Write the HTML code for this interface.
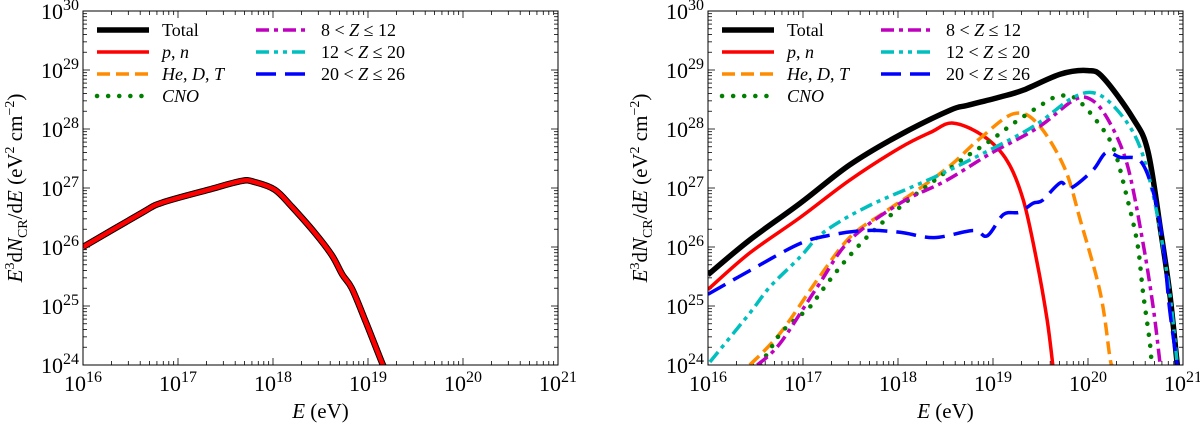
<!DOCTYPE html>
<html><head><meta charset="utf-8">
<style>
html,body{margin:0;padding:0;background:#fff;}
svg{display:block;font-family:"Liberation Serif",serif;}
</style></head>
<body>
<svg id="fig" width="1200" height="424" viewBox="0 0 1200 424" xmlns="http://www.w3.org/2000/svg"></svg>
<script>
// ---- data (log10 E, log10 E^3 dN/dE) ----
const leftTotalX = [16.0,16.62,16.83,17.32,17.67,17.81,18.02,18.2,18.44,18.62,18.73,18.83,18.97,19.15,19.18];
const leftTotalY = [26.0,26.58,26.75,26.97,27.12,27.1,26.97,26.68,26.24,25.86,25.53,25.3,24.76,24.03,23.95];

const totX = [16.0,16.44,16.97,17.49,18.02,18.55,18.73,19.07,19.32,19.71,20.0,20.16,20.47,20.63,20.76,20.86,20.94];
const totY = [25.53,26.12,26.74,27.39,27.9,28.32,28.4,28.54,28.66,28.93,28.99,28.87,28.19,27.63,26.33,25.22,24.0];
const pX = [16.0,16.44,16.97,17.49,18.02,18.35,18.58,18.9,19.15,19.32,19.46,19.57,19.63];
const pY = [25.28,25.9,26.5,27.13,27.68,27.95,28.1,27.88,27.46,26.79,25.77,24.76,24.0];
const heX = [16.44,16.76,17.15,17.49,17.84,18.2,18.55,18.87,19.22,19.47,19.75,19.92,20.13,20.23,20.25];
const heY = [24.0,24.54,25.44,26.16,26.57,26.96,27.38,27.85,28.26,28.09,27.35,26.45,25.22,24.14,24.0];
const cnoX = [16.55,16.67,16.8,17.07,17.18,17.39,17.62,17.86,18.13,18.41,18.69,18.97,19.22,19.53,19.68,19.86,20.09,20.27,20.41,20.52,20.58,20.65,20.67];
const cnoY = [24.0,24.31,24.6,24.98,25.22,25.66,26.08,26.45,26.82,27.16,27.5,27.8,28.1,28.43,28.55,28.53,28.14,27.67,26.84,26.06,25.22,24.39,24.0];
const mgX = [16.52,16.76,17.15,17.49,18.02,18.5,18.97,19.47,19.84,20.02,20.2,20.41,20.58,20.69,20.76];
const mgY = [24.0,24.37,25.32,26.11,26.74,27.12,27.58,28.02,28.48,28.51,28.19,27.41,26.06,24.93,24.0];
const siX = [16.02,16.44,16.65,16.97,17.21,17.67,18.39,19.07,19.47,19.84,20.09,20.34,20.55,20.72,20.86,20.94];
const siY = [24.05,24.88,25.32,25.83,26.24,26.68,27.19,27.73,28.09,28.53,28.6,28.26,27.68,26.62,25.22,24.0];
const feX = [16.0,16.44,16.97,17.32,17.67,18.02,18.38,18.79,18.94,19.11,19.28,19.42,19.52,19.71,19.81,20.05,20.19,20.34,20.55,20.69,20.79,20.86,20.94];
const feY = [25.2,25.6,26.06,26.21,26.28,26.25,26.16,26.28,26.19,26.55,26.59,26.74,26.79,27.09,26.99,27.3,27.6,27.52,27.46,26.91,26.06,24.93,24.0];

const xTickExp = [16,17,18,19,20,21];
const yTickExp = [24,25,26,27,28,29,30];

const NS="http://www.w3.org/2000/svg";
const svg=document.getElementById('fig');
function mk(tag,attrs,parent){const e=document.createElementNS(NS,tag);for(const k in attrs)e.setAttribute(k,attrs[k]);(parent||svg).appendChild(e);return e;}

const Y0=365, Y1=11;
function makeAxes(x0,x1,id){
  const sx=v=>x0+(v-16)*(x1-x0)/5;
  const sy=v=>Y0-(v-24)*(Y0-Y1)/6;
  const g=mk('g',{});
  
  
  const cp=mk('clipPath',{id:id+'-clip'},g);
  mk('rect',{x:x0,y:Y1,width:x1-x0,height:Y0-Y1},cp);
  const tk=mk('g',{stroke:'#000','stroke-width':0.8},g);
  
  
  for(let e=16;e<=21;e++){
    for(let m=1;m<=9;m++){
      if(e===21&&m>1)break;
      const v=e+Math.log10(m), X=sx(v), L=m===1?7:4;
      mk('line',{x1:X,y1:Y0,x2:X,y2:Y0-L},tk);
      mk('line',{x1:X,y1:Y1,x2:X,y2:Y1+L},tk);
    }
  }
  for(let e=24;e<=30;e++){
    for(let m=1;m<=9;m++){
      if(e===30&&m>1)break;
      const v=e+Math.log10(m), Y=sy(v), L=m===1?7:4;
      mk('line',{x1:x0,y1:Y,x2:x0+L,y2:Y},tk);
      mk('line',{x1:x1,y1:Y,x2:x1-L,y2:Y},tk);
    }
  }
  xTickExp.forEach(e=>{
    const t=mk('text',{x:sx(e),y:391,'text-anchor':'middle','font-size':22},g);
    
    
    t.innerHTML='10<tspan dy="-9" font-size="16">'+e+'</tspan>';
  });
  yTickExp.forEach(e=>{
    const t=mk('text',{x:x0-4,y:sy(e)+8,'text-anchor':'end','font-size':22},g);
    
    
    t.innerHTML='10<tspan dy="-9" font-size="16">'+e+'</tspan>';
  });
  const xl=mk('text',{x:(x0+x1)/2,y:418,'text-anchor':'middle','font-size':21},g);
  
  
  xl.innerHTML='<tspan font-style="italic">E</tspan> (eV)';
  const yl=mk('text',{x:0,y:0,'text-anchor':'middle','font-size':21,transform:`translate(${x0-61},${(Y0+Y1)/2}) rotate(-90)`},g);
  
  
  yl.innerHTML='<tspan font-style="italic">E</tspan><tspan dy="-8" font-size="14">3</tspan><tspan dy="8">d</tspan><tspan font-style="italic">N</tspan><tspan dy="5" font-size="14">CR</tspan><tspan dy="-5">/d</tspan><tspan font-style="italic">E</tspan> (eV<tspan dy="-8" font-size="14">2</tspan><tspan dy="8"> cm</tspan><tspan dy="-8" font-size="14">−2</tspan><tspan dy="8">)</tspan>';
  const plot=mk('g',{'clip-path':`url(#${id}-clip)`},g);
  
  
  mk('rect',{x:x0,y:Y1,width:x1-x0,height:Y0-Y1,fill:'none',stroke:'#000','stroke-width':1},g);
  return {sx,sy,plot,g,x0};
}
function series(ax,xs,ys,style,name){
  const P=xs.map((v,i)=>[ax.sx(v),ax.sy(ys[i])]);
  let d='M'+P[0][0].toFixed(1)+','+P[0][1].toFixed(1);
  for(let i=0;i<P.length-1;i++){
    const p0=P[Math.max(i-1,0)],p1=P[i],p2=P[i+1],p3=P[Math.min(i+2,P.length-1)];
    const c1=[p1[0]+(p2[0]-p0[0])/6,p1[1]+(p2[1]-p0[1])/6];
    const c2=[p2[0]-(p3[0]-p1[0])/6,p2[1]-(p3[1]-p1[1])/6];
    d+=` C${c1[0].toFixed(1)},${c1[1].toFixed(1)} ${c2[0].toFixed(1)},${c2[1].toFixed(1)} ${p2[0].toFixed(1)},${p2[1].toFixed(1)}`;
  }
  const p=mk('path',Object.assign({d,fill:'none','stroke-linejoin':'round'},style),ax.plot);
  
  
}
const ST={
  tot:{stroke:'#000','stroke-width':5.5},
  p:{stroke:'#f00','stroke-width':3.5},
  he:{stroke:'#ff8c00','stroke-width':3.5,'stroke-dasharray':'13 6'},
  cno:{stroke:'#007f00','stroke-width':4.5,'stroke-dasharray':'0.1 11','stroke-linecap':'round'},
  mg:{stroke:'#bf00bf','stroke-width':3.5,'stroke-dasharray':'13 5 4 5'},
  si:{stroke:'#00bfbf','stroke-width':3.5,'stroke-dasharray':'13 5 4 5 4 5'},
  fe:{stroke:'#0000ff','stroke-width':3.5,'stroke-dasharray':'20 9'}
};
function legend(ax){
  const lx=ax.x0+14, rows=[30,52,74,96];
  const ent=[['tot','Total',0,0],['p','<tspan font-style="italic">p</tspan>, <tspan font-style="italic">n</tspan>',0,1],
    ['he','<tspan font-style="italic">He</tspan>, <tspan font-style="italic">D</tspan>, <tspan font-style="italic">T</tspan>',0,2],
    ['cno','<tspan font-style="italic">CNO</tspan>',0,3],
    ['mg','8 &lt; <tspan font-style="italic">Z</tspan> ≤ 12',1,0],['si','12 &lt; <tspan font-style="italic">Z</tspan> ≤ 20',1,1],['fe','20 &lt; <tspan font-style="italic">Z</tspan> ≤ 26',1,2]];
  const lg=mk('g',{},ax.g);
  
  
  ent.forEach(([k,lab,c,r])=>{
    const bx=lx+c*159, y=rows[r];
    const e=mk('g',{},lg);
    
    
    mk('line',Object.assign({x1:bx,y1:y,x2:bx+52,y2:y},ST[k]),e);
    const t=mk('text',{x:bx+65,y:y+6,'font-size':18},e);
    t.innerHTML=lab;
  });
}
const A=makeAxes(83,558,'left');
series(A,leftTotalX,leftTotalY,{stroke:'#000','stroke-width':6.5},'left-total-line');
series(A,leftTotalX,leftTotalY,{stroke:'#f00','stroke-width':4.5},'left-pn-line');
legend(A);
const B=makeAxes(708,1183,'right');
series(B,totX,totY,ST.tot,'total-line');
series(B,pX,pY,ST.p,'pn-line');
series(B,heX,heY,ST.he,'he-d-t-line');
series(B,cnoX,cnoY,ST.cno,'cno-line');
series(B,mgX,mgY,ST.mg,'z8-12-line');
series(B,siX,siY,ST.si,'z12-20-line');
series(B,feX,feY,ST.fe,'z20-26-line');
legend(B);
</script>
</body></html>
